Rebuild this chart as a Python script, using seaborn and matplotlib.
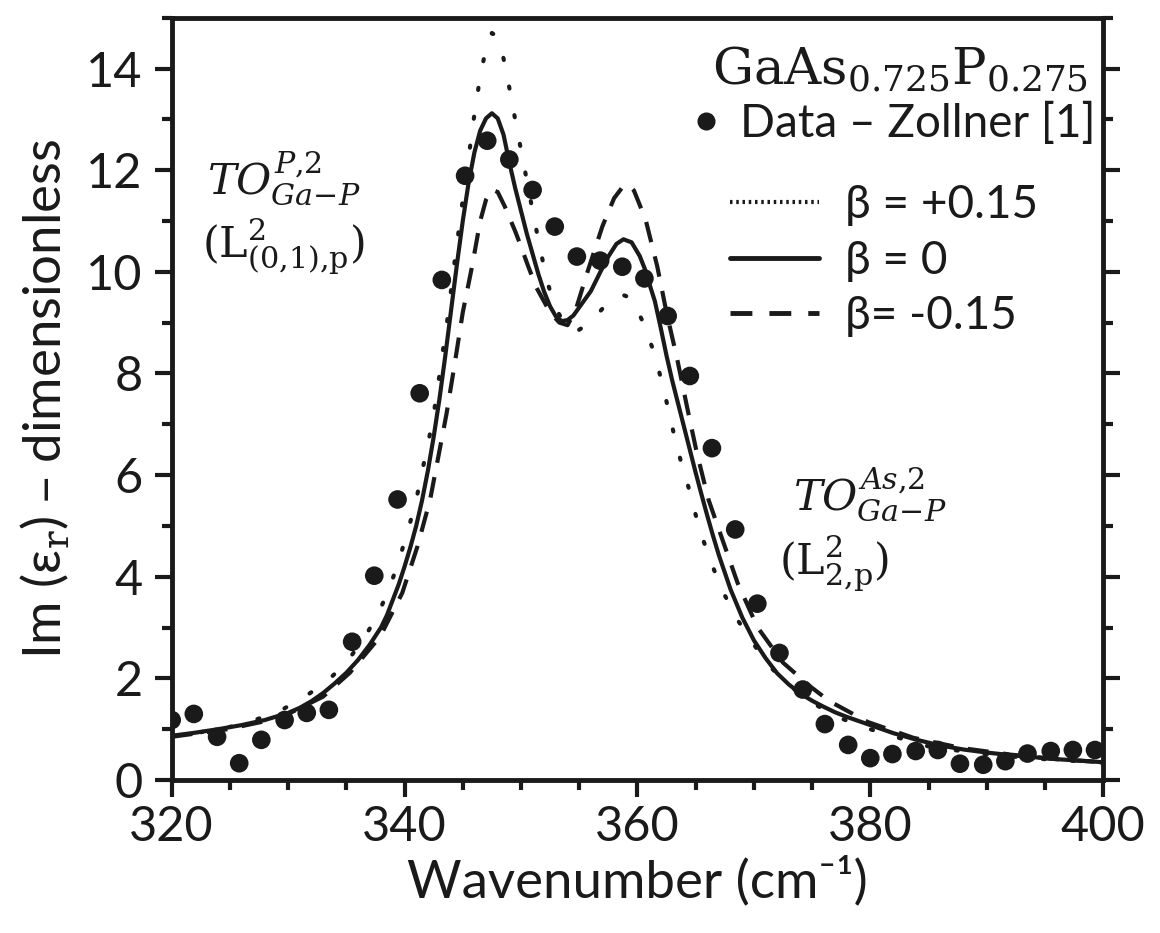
import matplotlib
matplotlib.use("Agg")
import matplotlib.pyplot as plt
import seaborn as sns
from matplotlib.lines import Line2D
from matplotlib.ticker import MultipleLocator

# measured points (Zollner)
data_x = [320.0, 321.9, 323.9, 325.8, 327.7, 329.7, 331.6, 333.5, 335.5, 337.4,
          339.4, 341.3, 343.2, 345.2, 347.1, 349.0, 351.0, 352.9, 354.8, 356.8,
          358.7, 360.6, 362.6, 364.5, 366.4, 368.4, 370.3, 372.2, 374.2, 376.1,
          378.1, 380.0, 381.9, 383.9, 385.8, 387.7, 389.7, 391.6, 393.5, 395.5,
          397.4, 399.3]
data_y = [1.18, 1.30, 0.85, 0.33, 0.79, 1.18, 1.32, 1.38, 2.72, 4.02,
          5.52, 7.61, 9.84, 11.89, 12.58, 12.21, 11.61, 10.89, 10.30, 10.22,
          10.10, 9.87, 9.13, 7.95, 6.53, 4.93, 3.47, 2.50, 1.78, 1.10,
          0.69, 0.43, 0.51, 0.57, 0.59, 0.32, 0.30, 0.37, 0.52, 0.57,
          0.59, 0.59]

# beta = 0
b0_x = [320, 322, 324, 326, 328, 330, 331, 332, 333, 334, 335, 336, 337, 338,
        338.5, 339, 339.5, 340, 340.5, 341, 341.5, 342, 342.5, 343, 343.5, 344,
        344.5, 345, 345.5, 346, 346.5, 347, 347.5, 348, 348.5, 349, 349.5, 350,
        350.5, 351, 351.5, 352, 352.5, 353, 353.5, 354, 354.5, 355, 356, 356.8,
        357.5, 358.2, 358.8, 359.5, 360.2, 360.7, 361.1, 361.5, 362, 362.5, 363,
        363.5, 364, 364.5, 365, 365.5, 366, 366.5, 367, 368, 369, 370, 371, 372,
        373, 374, 375, 376, 377, 378, 380, 382, 384, 386, 388, 390, 392, 394,
        396, 398, 400]
b0_y = [0.87, 0.93, 1.00, 1.08, 1.18, 1.32, 1.42, 1.55, 1.71, 1.90, 2.11, 2.36,
        2.66, 3.01, 3.25, 3.55, 3.85, 4.20, 4.58, 5.00, 5.50, 6.08, 6.75, 7.50,
        8.35, 9.25, 10.15, 11.00, 11.75, 12.35, 12.78, 13.02, 13.12, 13.02,
        12.70, 12.15, 11.65, 11.20, 10.75, 10.35, 9.95, 9.60, 9.32, 9.12, 9.03,
        9.05, 9.14, 9.30, 9.62, 9.99, 10.30, 10.55, 10.64, 10.58, 10.31, 10.02,
        9.71, 9.42, 8.90, 8.35, 7.85, 7.40, 6.95, 6.50, 6.05, 5.62, 5.20, 4.80,
        4.42, 3.75, 3.20, 2.75, 2.40, 2.10, 1.88, 1.70, 1.56, 1.44, 1.33, 1.24,
        1.08, 0.92, 0.79, 0.68, 0.60, 0.54, 0.49, 0.45, 0.41, 0.38, 0.35]

# beta = +0.15
bp_x = [320, 322.2, 324.6, 326.9, 329.3, 331.3, 333.2, 335.0, 336.5, 337.7,
        338.7, 339.5, 340.2, 340.9, 341.4, 341.9, 342.4, 342.8, 343.2, 343.7,
        344.3, 344.9, 345.5, 346.0, 346.5, 347.0, 347.5, 348.0, 348.5, 349.0,
        349.5, 350.0, 350.5, 351.0, 351.5, 352.2, 352.9, 354.0, 355.0, 355.9,
        357.5, 358.7, 359.5, 360.5, 361.4, 362.0, 362.6, 363.1, 363.7, 364.4,
        365.0, 365.7, 366.5, 367.4, 368.6, 369.9, 371.2, 373.0, 375.0, 377.2,
        379.4, 381.7, 385, 390, 395, 400]
bp_y = [0.88, 0.93, 1.02, 1.16, 1.36, 1.62, 1.91, 2.31, 2.78, 3.25,
        3.78, 4.30, 4.85, 5.40, 5.95, 6.50, 7.05, 7.65, 8.30, 9.10,
        10.20, 11.25, 12.25, 13.10, 13.85, 14.40, 14.70, 14.62, 14.20, 13.62,
        13.00, 12.40, 11.80, 11.20, 10.62, 9.85, 9.32, 8.87, 8.86, 9.00,
        9.40, 9.55, 9.48, 9.00, 8.43, 7.92, 7.35, 6.84, 6.30, 5.75,
        5.22, 4.69, 4.18, 3.68, 3.15, 2.70, 2.27, 1.87, 1.52, 1.24,
        1.04, 0.88, 0.66, 0.50, 0.41, 0.34]

# beta = -0.15
bm_x = [320, 324.8, 329.3, 333.0, 335.3, 337.9, 339.8, 341.1, 342.2, 342.9,
        343.6, 344.3, 345.0, 345.8, 346.5, 347.0, 347.5, 348.0, 348.6, 349.5,
        350.0, 350.6, 351.3, 352.5, 353.3, 354.0, 354.7, 355.7, 357.0, 358.0,
        358.7, 359.2, 359.7, 360.7, 361.7, 362.5, 363.4, 364.3, 365.1, 366.1,
        367.3, 368.6, 370.3, 372.5, 374.9, 376.5, 379.8, 383.7, 387.8, 392,
        396, 400]
bm_y = [0.85, 1.00, 1.22, 1.64, 2.11, 2.82, 3.68, 4.59, 5.52, 6.36,
        7.20, 8.18, 9.20, 10.11, 11.00, 11.42, 11.62, 11.57, 11.29, 10.80,
        10.50, 10.12, 9.70, 9.20, 9.00, 8.95, 9.25, 9.99, 10.90, 11.45,
        11.66, 11.72, 11.60, 11.03, 10.11, 9.20, 8.30, 7.30, 6.44, 5.52,
        4.73, 3.88, 3.01, 2.31, 1.83, 1.55, 1.14, 0.83, 0.63, 0.50,
        0.41, 0.35]

sns.set_theme(style="ticks")
plt.rcParams['font.family'] = ['Lato', 'DejaVu Sans']
plt.rcParams['mathtext.fontset'] = 'dejavuserif'
plt.rcParams['text.color'] = 'k'
plt.rcParams['axes.labelcolor'] = 'k'

fig = plt.figure(figsize=(11.6, 9.33), dpi=100)
ax = fig.add_axes([0.148, 0.164, 0.803, 0.817])

sns.lineplot(x=bp_x, y=bp_y, color='k', lw=3, ax=ax)
ax.lines[-1].set_linestyle((0, (0.5, 6.5)))
ax.lines[-1].set_dash_capstyle('round')
sns.lineplot(x=b0_x, y=b0_y, color='k', lw=3, ax=ax)
sns.lineplot(x=bm_x, y=bm_y, color='k', lw=3, ax=ax)
ax.lines[-1].set_linestyle((0, (5, 3.5)))
sns.scatterplot(x=data_x, y=data_y, color='k', s=180, edgecolor='none', ax=ax, zorder=3)

ax.set_xlim(320, 400)
ax.set_ylim(0, 15)
ax.xaxis.set_major_locator(MultipleLocator(20))
ax.xaxis.set_minor_locator(MultipleLocator(5))
ax.yaxis.set_major_locator(MultipleLocator(2))
ax.yaxis.set_minor_locator(MultipleLocator(1))
ax.tick_params(which='both', direction='out', width=3, colors='k', labelcolor='k',
               right=True, top=False, labelsize=35)
ax.tick_params(axis='y', pad=9)
ax.tick_params(axis='x', pad=6)
ax.tick_params(which='major', length=12)
ax.tick_params(which='minor', length=7)
for s in ax.spines.values():
    s.set_linewidth(3.5)
    s.set_color('k')

ax.set_xlabel('Wavenumber (cm⁻¹)', fontsize=38, labelpad=5)
ax.set_ylabel(r'Im (ε$_{\mathrm{r}}$) – dimensionless', fontsize=38, labelpad=10)

ax.text(0.984, 0.932, r'$\mathrm{GaAs}_{0.725}\mathrm{P}_{0.275}$', transform=ax.transAxes,
        ha='right', va='center', fontsize=37)
ax.text(0.12, 0.79, r'$TO^{P{,}2}_{Ga{-}P}$', transform=ax.transAxes,
        ha='center', va='center', fontsize=31)
ax.text(0.12, 0.70, r'$(\mathrm{L}^{2}_{(0{,}1){,}\mathrm{p}})$', transform=ax.transAxes,
        ha='center', va='center', fontsize=31)
ax.text(0.667, 0.375, r'$TO^{As{,}2}_{Ga{-}P}$', transform=ax.transAxes,
        ha='left', va='center', fontsize=31)
ax.text(0.652, 0.285, r'$(\mathrm{L}^{2}_{2{,}\mathrm{p}})$', transform=ax.transAxes,
        ha='left', va='center', fontsize=31)

h_data = Line2D([], [], marker='o', ls='none', color='k', markersize=12)
leg1 = ax.legend([h_data], ['Data – Zollner [1]'], loc='upper right',
                 bbox_to_anchor=(0.992, 0.89), frameon=False, fontsize=33,
                 handlelength=0.5, handletextpad=0.5, borderaxespad=0, borderpad=0)
ax.add_artist(leg1)

h_p = Line2D([], [], color='k', lw=3, ls=(0, (0.6, 0.9)))
h_0 = Line2D([], [], color='k', lw=3.5)
h_m = Line2D([], [], color='k', lw=3.5, ls=(0, (4.5, 3.5)))
ax.legend([h_p, h_0, h_m], ['β = +0.15', 'β = 0', 'β= -0.15'], loc='upper left',
          bbox_to_anchor=(0.599, 0.782), frameon=False, fontsize=33,
          handlelength=1.96, handletextpad=0.55, labelspacing=0.3,
          borderaxespad=0, borderpad=0)

fig.savefig('out.png', dpi=100)
